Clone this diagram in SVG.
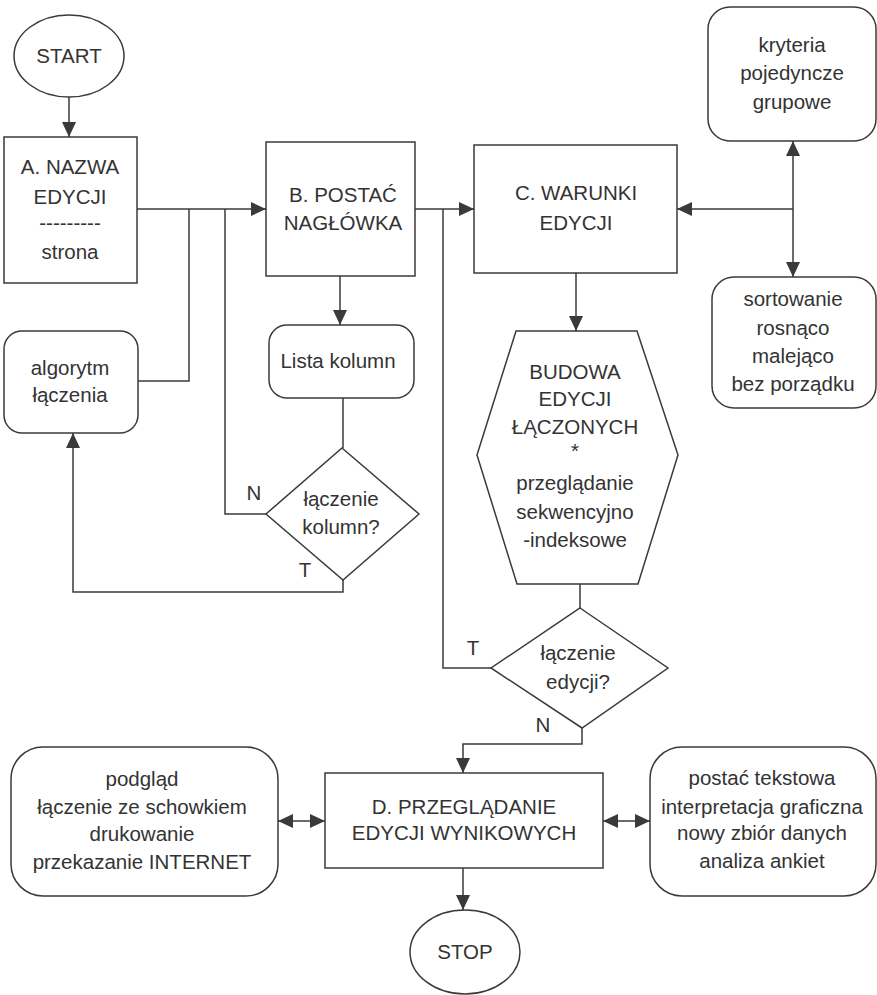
<svg xmlns="http://www.w3.org/2000/svg" width="877" height="995" viewBox="0 0 877 995">
<style>
.s{fill:#fff;stroke:#3a3a3a;stroke-width:1.5}
.c{fill:none;stroke:#3a3a3a;stroke-width:1.5}
text{font-family:"Liberation Sans",Arial,sans-serif;font-size:20.5px;fill:#333;text-anchor:middle}
.l{text-anchor:start}
</style>
<defs>
<marker id="a" markerUnits="userSpaceOnUse" markerWidth="16" markerHeight="14" refX="15" refY="7" orient="auto-start-reverse">
<path d="M0,0 L15,7 L0,14 z" fill="#3a3a3a"/>
</marker>
</defs>
<rect width="877" height="995" fill="#fff"/>
<g id="connectors">
<path class="c" d="M69,97 V137" marker-end="url(#a)"/>
<path class="c" d="M137,209 H266" marker-end="url(#a)"/>
<path class="c" d="M138,381 H189 V209"/>
<path class="c" d="M266,514 H225 V209"/>
<path class="c" d="M415,209 H474" marker-end="url(#a)"/>
<path class="c" d="M491,668 H443 V209"/>
<path class="c" d="M793,209 H677" marker-end="url(#a)"/>
<path class="c" d="M793,141 V277" marker-start="url(#a)" marker-end="url(#a)"/>
<path class="c" d="M340,276 V325" marker-end="url(#a)"/>
<path class="c" d="M343,398 V448"/>
<path class="c" d="M343,580 V592 H73 V433" marker-end="url(#a)"/>
<path class="c" d="M576,273 V331" marker-end="url(#a)"/>
<path class="c" d="M580,584 V608"/>
<path class="c" d="M582,728 V744 H463 V773" marker-end="url(#a)"/>
<path class="c" d="M463,868 V910" marker-end="url(#a)"/>
<path class="c" d="M278,821 H325" marker-start="url(#a)" marker-end="url(#a)"/>
<path class="c" d="M603,821 H650" marker-start="url(#a)" marker-end="url(#a)"/>
<text x="254" y="500">N</text>
<text x="305" y="577">T</text>
<text x="473" y="655">T</text>
<text x="543" y="732">N</text>
</g>
<g id="start">
<ellipse class="s" cx="69" cy="56" rx="55" ry="41"/>
<text x="69" y="63">START</text>
</g>
<g id="nodeA">
<rect class="s" x="4" y="137" width="133" height="146"/>
<text x="70" y="174">A. NAZWA</text>
<text x="70" y="204">EDYCJI</text>
<text x="70" y="230">---------</text>
<text x="70" y="259">strona</text>
</g>
<g id="nodeB">
<rect class="s" x="266" y="142" width="149" height="134"/>
<text x="343" y="202">B. POSTAĆ</text>
<text x="343" y="230">NAGŁÓWKA</text>
</g>
<g id="nodeC">
<rect class="s" x="474" y="145" width="203" height="128"/>
<text x="576" y="200">C. WARUNKI</text>
<text x="576" y="230">EDYCJI</text>
</g>
<g id="kryteria">
<rect class="s" x="708" y="7" width="168" height="134" rx="22"/>
<text x="792" y="52">kryteria</text>
<text x="792" y="80">pojedyncze</text>
<text x="792" y="109">grupowe</text>
</g>
<g id="sortowanie">
<rect class="s" x="712" y="277" width="164" height="131" rx="22"/>
<text x="793" y="306">sortowanie</text>
<text x="793" y="335">rosnąco</text>
<text x="793" y="363">malejąco</text>
<text x="793" y="391">bez porządku</text>
</g>
<g id="algorytm">
<rect class="s" x="4" y="331" width="134" height="102" rx="18"/>
<text x="70" y="375">algorytm</text>
<text x="70" y="402">łączenia</text>
</g>
<g id="lista">
<rect class="s" x="269" y="325" width="145" height="73" rx="18"/>
<text x="338" y="368">Lista kolumn</text>
</g>
<g id="decision1">
<polygon class="s" points="342,448 419,514 343,580 266,514"/>
<text x="341" y="506">łączenie</text>
<text x="341" y="534">kolumn?</text>
</g>
<g id="budowa">
<polygon class="s" points="516,331 637,331 678,455 638,584 517,584 477,455"/>
<text x="575" y="379">BUDOWA</text>
<text x="575" y="406">EDYCJI</text>
<text x="575" y="434">ŁĄCZONYCH</text>
<text x="575" y="458">*</text>
<text x="575" y="490">przeglądanie</text>
<text x="575" y="519">sekwencyjno</text>
<text x="575" y="547">-indeksowe</text>
</g>
<g id="decision2">
<polygon class="s" points="580,608 668,668 582,728 491,668"/>
<text x="578" y="660">łączenie</text>
<text x="578" y="689">edycji?</text>
</g>
<g id="nodeD">
<rect class="s" x="325" y="773" width="278" height="95"/>
<text x="464" y="814">D. PRZEGLĄDANIE</text>
<text x="464" y="840">EDYCJI WYNIKOWYCH</text>
</g>
<g id="podglad">
<rect class="s" x="11" y="747" width="267" height="149" rx="32"/>
<text x="142" y="786">podgląd</text>
<text x="142" y="814">łączenie ze schowkiem</text>
<text x="142" y="841">drukowanie</text>
<text x="142" y="869">przekazanie INTERNET</text>
</g>
<g id="postac">
<rect class="s" x="650" y="747" width="226" height="149" rx="32"/>
<text x="762" y="785">postać tekstowa</text>
<text x="762" y="814">interpretacja graficzna</text>
<text x="762" y="840">nowy zbiór danych</text>
<text x="762" y="868">analiza ankiet</text>
</g>
<g id="stop">
<ellipse class="s" cx="465" cy="952" rx="55" ry="42"/>
<text x="465" y="959">STOP</text>
</g>
</svg>
